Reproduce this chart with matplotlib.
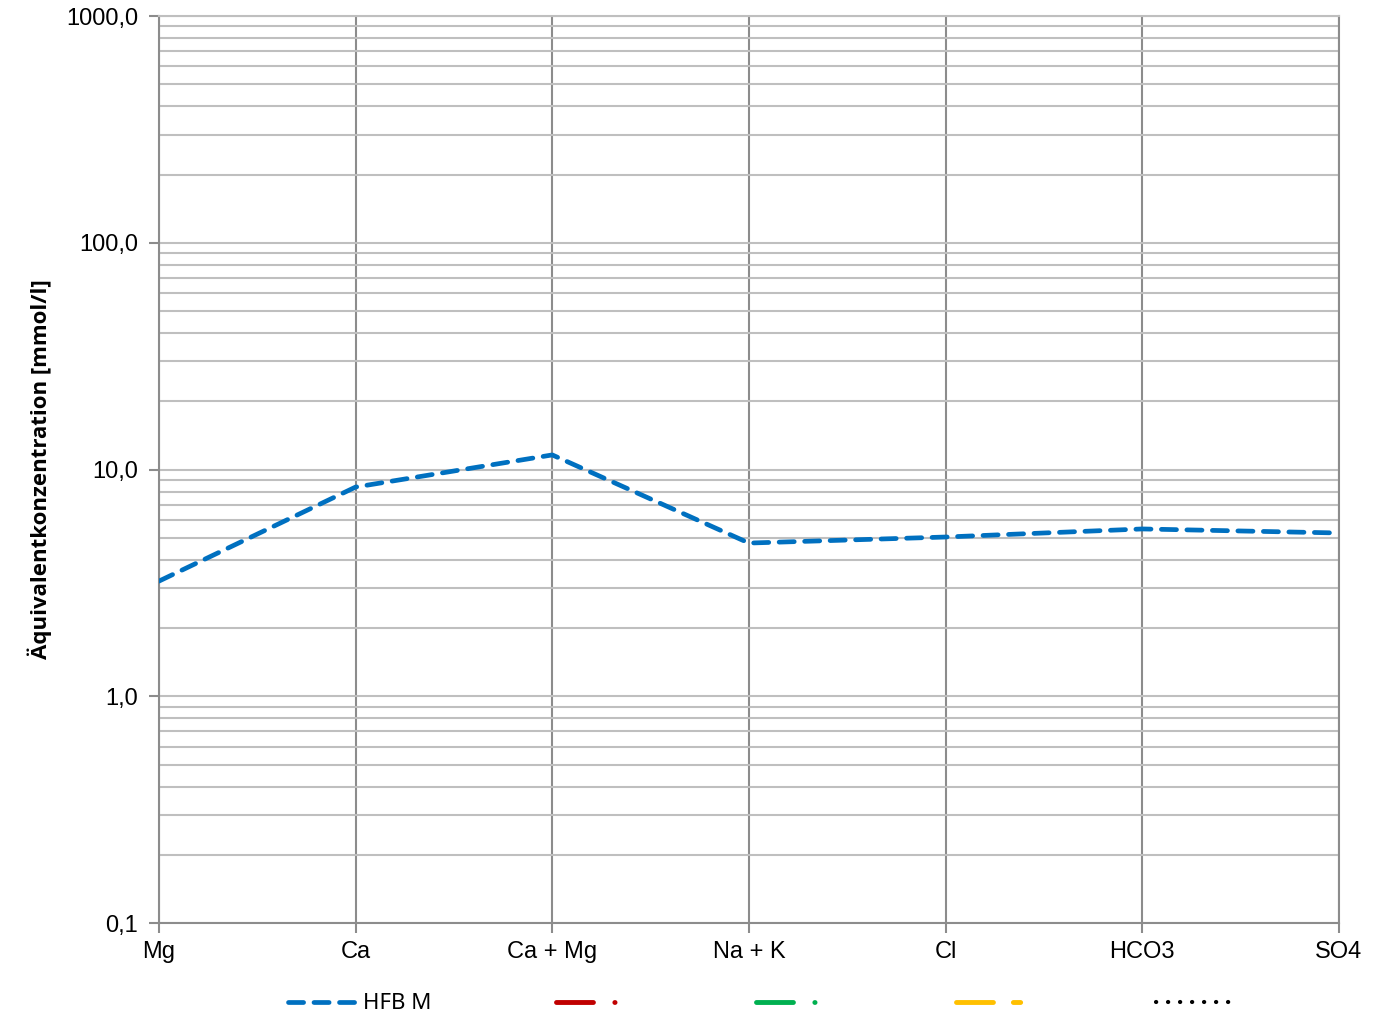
import matplotlib.pyplot as plt
from matplotlib.ticker import LogLocator, FuncFormatter, NullFormatter

# data
categories = ['Mg', 'Ca', 'Ca + Mg', 'Na + K', 'Cl', 'HCO3', 'SO4']
hfb_m = [3.22, 8.37, 11.6, 4.74, 5.04, 5.47, 5.25]
series_names = ['HFB M', '', '', '', '']

fig = plt.figure(figsize=(13.93, 10.15), dpi=100)
ax = fig.add_axes([0.1141, 0.0906, 0.8471, 0.8936])

x = list(range(len(categories)))

#main series - blue dashed
l1, = ax.plot(x, hfb_m, color='#0070C0', lw=3.4, dashes=(3.2, 2.2),
              dash_capstyle='round', zorder=5)
#empty series only shown in the legend
l2, = ax.plot([], [], color='#C00000', lw=3.5, dashes=(7.6, 4.4, 0.05, 6), dash_capstyle='round')
l3, = ax.plot([], [], color='#00B050', lw=3.5, dashes=(7.6, 4.4, 0.05, 6), dash_capstyle='round')
l4, = ax.plot([], [], color='#FFC000', lw=3.5, dashes=(7.6, 4.1, 1.5, 4), dash_capstyle='round')
l5, = ax.plot([], [], color='black', lw=3.0, dashes=(0.05, 2.83), dash_capstyle='round')

ax.set_yscale('log')
ax.set_ylim(0.1, 1000)
ax.set_xlim(0, len(categories) - 1)

ax.yaxis.set_major_locator(LogLocator(base=10, numticks=10))
ax.yaxis.set_minor_locator(LogLocator(base=10, subs=range(2, 10), numticks=20))
ax.yaxis.set_major_formatter(FuncFormatter(lambda v, p: f'{v:.1f}'.replace('.', ',')))
ax.yaxis.set_minor_formatter(NullFormatter())

ax.set_xticks(x)
ax.set_xticklabels(categories)

ax.grid(axis='y', which='both', color='#BFBFBF', lw=1.5)
ax.grid(axis='x', which='major', color='#8C8C8C', lw=1.5)
ax.set_axisbelow(True)

for s in ['left', 'bottom', 'right']:
    ax.spines[s].set_color('#8C8C8C')
    ax.spines[s].set_linewidth(1.5)
ax.spines['top'].set_color('#BFBFBF')
ax.spines['top'].set_linewidth(1.5)

ax.tick_params(axis='y', which='major', length=7, width=1.5, color='#8C8C8C', pad=8)
ax.tick_params(axis='y', which='minor', length=0)
ax.tick_params(axis='x', length=7, width=1.5, color='#8C8C8C', pad=6)
for lab in ax.get_xticklabels() + ax.get_yticklabels():
    lab.set_fontfamily('Liberation Sans')
    lab.set_fontsize(17)

ax.set_ylabel('Äquivalentkonzentration [mmol/l]', fontsize=16, fontweight='bold',
              family='Open Sans', labelpad=10)

leg = fig.legend([l1, l2, l3, l4, l5], series_names, loc='center',
                 bbox_to_anchor=(0.5455, 0.011), ncol=5, frameon=False,
                 handlelength=3.3, handletextpad=0.1, columnspacing=5.6,
                 prop={'family': 'Noto Sans', 'size': 16})

plt.savefig('out.png', dpi=100)
